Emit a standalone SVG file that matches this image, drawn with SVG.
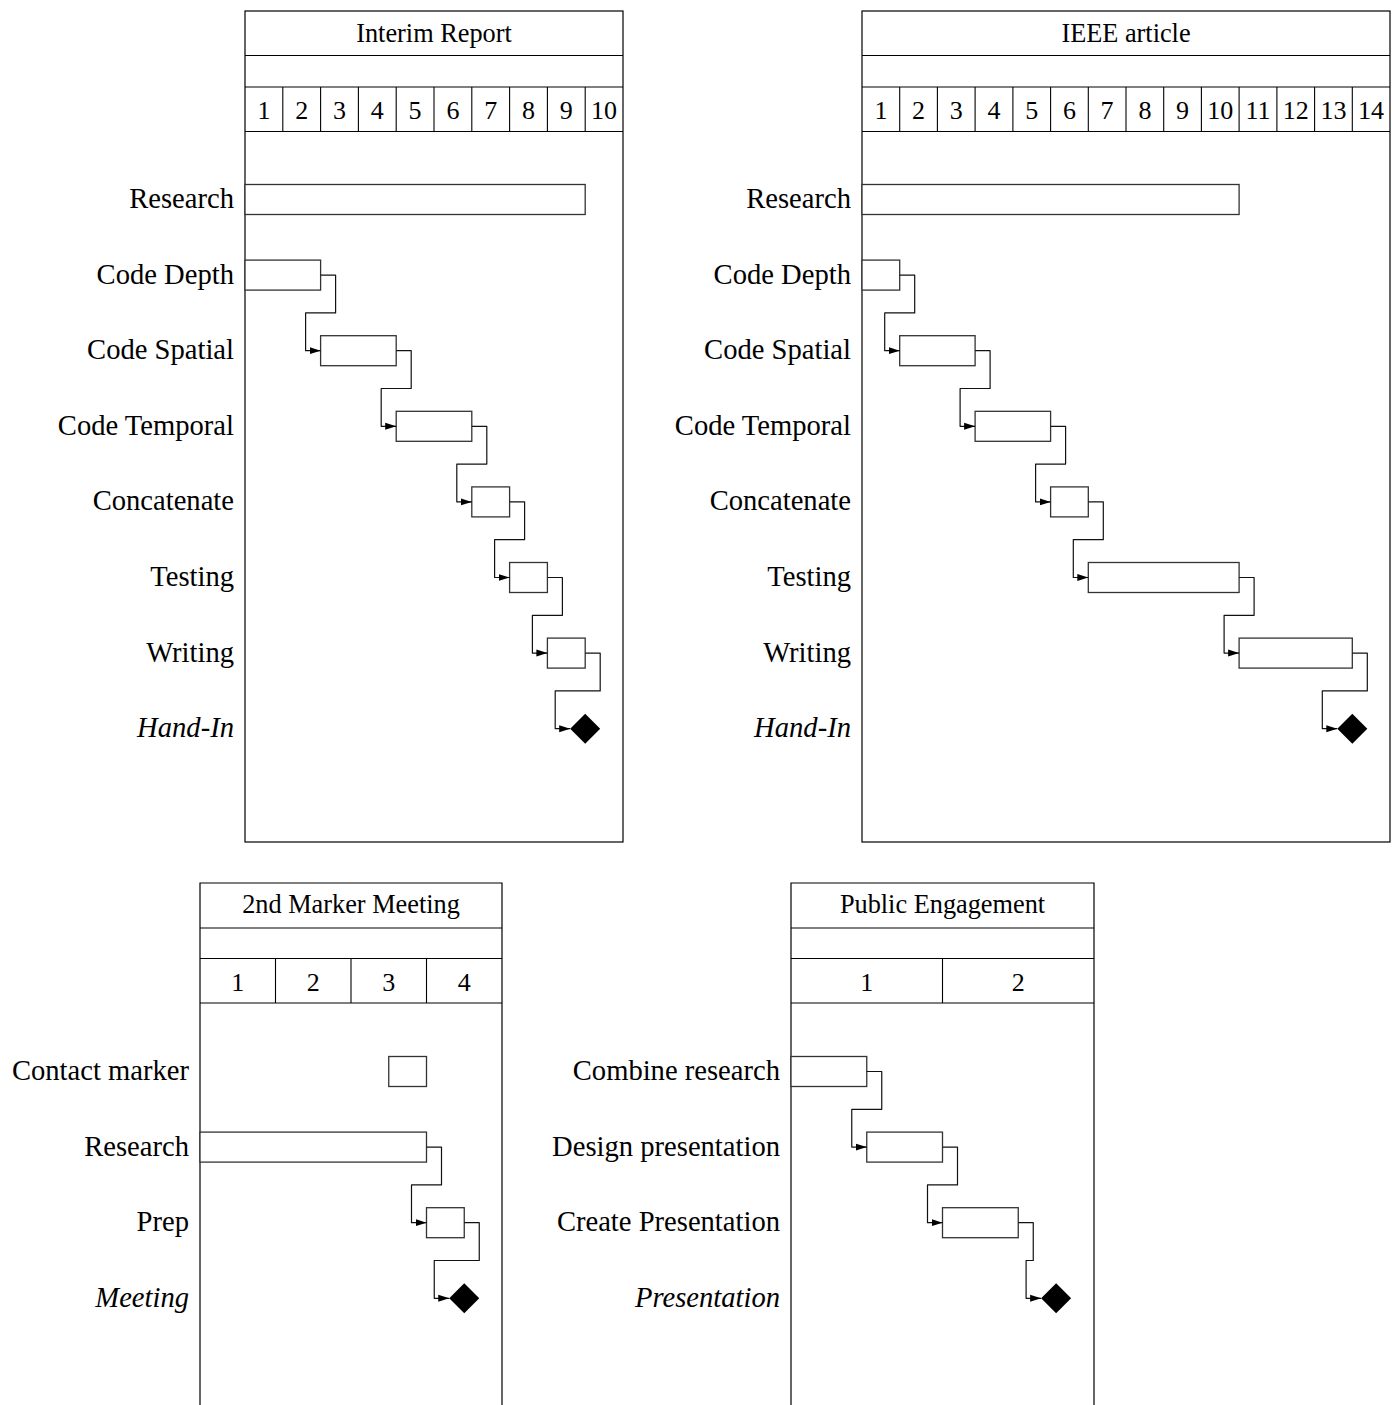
<svg xmlns="http://www.w3.org/2000/svg" width="1399" height="1405" viewBox="0 0 1399 1405">
<style>
.frame{fill:none;stroke:#000;stroke-width:1.2}
.grid{stroke:#000;stroke-width:1.1}
.bar{fill:#fff;stroke:#333;stroke-width:1.3}
.ms{fill:#000;stroke:none}
.conn{fill:none;stroke:#111;stroke-width:1.2;stroke-linejoin:round}
.title{font-family:"Liberation Serif","Times New Roman",serif;font-size:26.3px;text-anchor:middle;fill:#000}
.num{font-family:"Liberation Serif","Times New Roman",serif;font-size:26px;text-anchor:middle;fill:#000}
.lbl{font-family:"Liberation Serif","Times New Roman",serif;font-size:28.6px;text-anchor:end;fill:#000}
.it{font-style:italic}
</style>
<defs>
<marker id="arr" markerUnits="userSpaceOnUse" markerWidth="12" markerHeight="9" refX="11" refY="4.5" orient="auto">
<path d="M0,1 L11,4.5 L0,8 z" fill="#000"/>
</marker>
</defs>
<rect width="1399" height="1405" fill="#fff"/>

<!-- Chart 1: Interim Report -->
<g id="chart-interim">
<rect class="frame" x="245" y="11" width="378" height="831"/>
<line class="grid" x1="245" y1="55.5" x2="623" y2="55.5"/>
<line class="grid" x1="245" y1="87" x2="623" y2="87"/>
<line class="grid" x1="245" y1="131.5" x2="623" y2="131.5"/>
<g class="grid">
<line x1="282.8" y1="87" x2="282.8" y2="131.5"/><line x1="320.6" y1="87" x2="320.6" y2="131.5"/><line x1="358.4" y1="87" x2="358.4" y2="131.5"/><line x1="396.2" y1="87" x2="396.2" y2="131.5"/><line x1="434" y1="87" x2="434" y2="131.5"/><line x1="471.8" y1="87" x2="471.8" y2="131.5"/><line x1="509.6" y1="87" x2="509.6" y2="131.5"/><line x1="547.4" y1="87" x2="547.4" y2="131.5"/><line x1="585.2" y1="87" x2="585.2" y2="131.5"/>
</g>
<text class="title" x="434" y="41.5">Interim Report</text>
<text class="num" x="263.9" y="118.5">1</text><text class="num" x="301.7" y="118.5">2</text><text class="num" x="339.5" y="118.5">3</text><text class="num" x="377.3" y="118.5">4</text><text class="num" x="415.1" y="118.5">5</text><text class="num" x="452.9" y="118.5">6</text><text class="num" x="490.7" y="118.5">7</text><text class="num" x="528.5" y="118.5">8</text><text class="num" x="566.3" y="118.5">9</text><text class="num" x="604.1" y="118.5">10</text>
<g id="ir-research"><text class="lbl" x="234" y="208">Research</text><rect class="bar" x="245" y="184.5" width="340.2" height="30"/></g>
<g id="ir-codedepth"><text class="lbl" x="234" y="283.6">Code Depth</text><rect class="bar" x="245" y="260.1" width="75.6" height="30"/></g>
<g id="ir-codespatial"><text class="lbl" x="234" y="359.2">Code Spatial</text><rect class="bar" x="320.6" y="335.7" width="75.6" height="30"/></g>
<g id="ir-codetemporal"><text class="lbl" x="234" y="434.8">Code Temporal</text><rect class="bar" x="396.2" y="411.3" width="75.6" height="30"/></g>
<g id="ir-concatenate"><text class="lbl" x="234" y="510.4">Concatenate</text><rect class="bar" x="471.8" y="486.9" width="37.8" height="30"/></g>
<g id="ir-testing"><text class="lbl" x="234" y="586">Testing</text><rect class="bar" x="509.6" y="562.5" width="37.8" height="30"/></g>
<g id="ir-writing"><text class="lbl" x="234" y="661.6">Writing</text><rect class="bar" x="547.4" y="638.1" width="37.8" height="30"/></g>
<g id="ir-handin"><text class="lbl it" x="234" y="737.2">Hand-In</text><path class="ms" d="M585.2,713.7 L600.2,728.7 L585.2,743.7 L570.2,728.7 z"/></g>
</g>

<!-- Chart 2: IEEE article -->
<g id="chart-ieee">
<rect class="frame" x="862" y="11" width="528" height="831"/>
<line class="grid" x1="862" y1="55.5" x2="1390" y2="55.5"/>
<line class="grid" x1="862" y1="87" x2="1390" y2="87"/>
<line class="grid" x1="862" y1="131.5" x2="1390" y2="131.5"/>
<g class="grid">
<line x1="899.7" y1="87" x2="899.7" y2="131.5"/><line x1="937.4" y1="87" x2="937.4" y2="131.5"/><line x1="975.1" y1="87" x2="975.1" y2="131.5"/><line x1="1012.9" y1="87" x2="1012.9" y2="131.5"/><line x1="1050.6" y1="87" x2="1050.6" y2="131.5"/><line x1="1088.3" y1="87" x2="1088.3" y2="131.5"/><line x1="1126" y1="87" x2="1126" y2="131.5"/><line x1="1163.7" y1="87" x2="1163.7" y2="131.5"/><line x1="1201.4" y1="87" x2="1201.4" y2="131.5"/><line x1="1239.1" y1="87" x2="1239.1" y2="131.5"/><line x1="1276.9" y1="87" x2="1276.9" y2="131.5"/><line x1="1314.6" y1="87" x2="1314.6" y2="131.5"/><line x1="1352.3" y1="87" x2="1352.3" y2="131.5"/>
</g>
<text class="title" x="1126" y="41.5">IEEE article</text>
<text class="num" x="880.9" y="118.5">1</text><text class="num" x="918.6" y="118.5">2</text><text class="num" x="956.3" y="118.5">3</text><text class="num" x="994" y="118.5">4</text><text class="num" x="1031.7" y="118.5">5</text><text class="num" x="1069.4" y="118.5">6</text><text class="num" x="1107.1" y="118.5">7</text><text class="num" x="1144.9" y="118.5">8</text><text class="num" x="1182.6" y="118.5">9</text><text class="num" x="1220.3" y="118.5">10</text><text class="num" x="1258" y="118.5">11</text><text class="num" x="1295.7" y="118.5">12</text><text class="num" x="1333.4" y="118.5">13</text><text class="num" x="1371.1" y="118.5">14</text>
<g id="ie-research"><text class="lbl" x="851" y="208">Research</text><rect class="bar" x="862" y="184.5" width="377.1" height="30"/></g>
<g id="ie-codedepth"><text class="lbl" x="851" y="283.6">Code Depth</text><rect class="bar" x="862" y="260.1" width="37.7" height="30"/></g>
<g id="ie-codespatial"><text class="lbl" x="851" y="359.2">Code Spatial</text><rect class="bar" x="899.7" y="335.7" width="75.4" height="30"/></g>
<g id="ie-codetemporal"><text class="lbl" x="851" y="434.8">Code Temporal</text><rect class="bar" x="975.1" y="411.3" width="75.5" height="30"/></g>
<g id="ie-concatenate"><text class="lbl" x="851" y="510.4">Concatenate</text><rect class="bar" x="1050.6" y="486.9" width="37.7" height="30"/></g>
<g id="ie-testing"><text class="lbl" x="851" y="586">Testing</text><rect class="bar" x="1088.3" y="562.5" width="150.8" height="30"/></g>
<g id="ie-writing"><text class="lbl" x="851" y="661.6">Writing</text><rect class="bar" x="1239.1" y="638.1" width="113.2" height="30"/></g>
<g id="ie-handin"><text class="lbl it" x="851" y="737.2">Hand-In</text><path class="ms" d="M1352.3,713.7 L1367.3,728.7 L1352.3,743.7 L1337.3,728.7 z"/></g>
</g>

<!-- Chart 3: 2nd Marker Meeting -->
<g id="chart-marker">
<path class="frame" d="M200,1412 V883 H502 V1412"/>
<line class="grid" x1="200" y1="928" x2="502" y2="928"/>
<line class="grid" x1="200" y1="958.5" x2="502" y2="958.5"/>
<line class="grid" x1="200" y1="1003" x2="502" y2="1003"/>
<g class="grid">
<line x1="275.5" y1="958.5" x2="275.5" y2="1003"/><line x1="351" y1="958.5" x2="351" y2="1003"/><line x1="426.5" y1="958.5" x2="426.5" y2="1003"/>
</g>
<text class="title" x="351" y="912.5">2nd Marker Meeting</text>
<text class="num" x="237.75" y="990.5">1</text><text class="num" x="313.25" y="990.5">2</text><text class="num" x="388.75" y="990.5">3</text><text class="num" x="464.25" y="990.5">4</text>
<g id="mm-contact"><text class="lbl" x="189" y="1080">Contact marker</text><rect class="bar" x="388.75" y="1056.5" width="37.75" height="30"/></g>
<g id="mm-research"><text class="lbl" x="189" y="1155.6">Research</text><rect class="bar" x="200" y="1132.1" width="226.5" height="30"/></g>
<g id="mm-prep"><text class="lbl" x="189" y="1231.2">Prep</text><rect class="bar" x="426.5" y="1207.7" width="37.75" height="30"/></g>
<g id="mm-meeting"><text class="lbl it" x="189" y="1306.8">Meeting</text><path class="ms" d="M464.25,1283.3 L479.25,1298.3 L464.25,1313.3 L449.25,1298.3 z"/></g>
</g>

<!-- Chart 4: Public Engagement -->
<g id="chart-public">
<path class="frame" d="M791,1412 V883 H1094 V1412"/>
<line class="grid" x1="791" y1="928" x2="1094" y2="928"/>
<line class="grid" x1="791" y1="958.5" x2="1094" y2="958.5"/>
<line class="grid" x1="791" y1="1003" x2="1094" y2="1003"/>
<line class="grid" x1="942.5" y1="958.5" x2="942.5" y2="1003"/>
<text class="title" x="942.5" y="912.5">Public Engagement</text>
<text class="num" x="866.75" y="990.5">1</text><text class="num" x="1018.25" y="990.5">2</text>
<g id="pe-combine"><text class="lbl" x="780" y="1080">Combine research</text><rect class="bar" x="791" y="1056.5" width="75.75" height="30"/></g>
<g id="pe-design"><text class="lbl" x="780" y="1155.6">Design presentation</text><rect class="bar" x="866.75" y="1132.1" width="75.75" height="30"/></g>
<g id="pe-create"><text class="lbl" x="780" y="1231.2">Create Presentation</text><rect class="bar" x="942.5" y="1207.7" width="75.75" height="30"/></g>
<g id="pe-presentation"><text class="lbl it" x="780" y="1306.8">Presentation</text><path class="ms" d="M1056.1,1283.3 L1071.1,1298.3 L1056.1,1313.3 L1041.1,1298.3 z"/></g>
</g>

<!-- Connectors -->
<g id="connectors" class="conn" marker-end="url(#arr)">
<path d="M320.6,275.1 H335.6 V312.9 H305.6 V350.7 H320.6"/>
<path d="M396.2,350.7 H411.2 V388.5 H381.2 V426.3 H396.2"/>
<path d="M471.8,426.3 H486.8 V464.1 H456.8 V501.9 H471.8"/>
<path d="M509.6,501.9 H524.6 V539.7 H494.6 V577.5 H509.6"/>
<path d="M547.4,577.5 H562.4 V615.3 H532.4 V653.1 H547.4"/>
<path d="M585.2,653.1 H600.2 V690.9 H555.2 V728.7 H570.2"/>
<path d="M899.7,275.1 H914.7 V312.9 H884.7 V350.7 H899.7"/>
<path d="M975.1,350.7 H990.1 V388.5 H960.1 V426.3 H975.1"/>
<path d="M1050.6,426.3 H1065.6 V464.1 H1035.6 V501.9 H1050.6"/>
<path d="M1088.3,501.9 H1103.3 V539.7 H1073.3 V577.5 H1088.3"/>
<path d="M1239.1,577.5 H1254.1 V615.3 H1224.1 V653.1 H1239.1"/>
<path d="M1352.3,653.1 H1367.3 V690.9 H1322.3 V728.7 H1337.3"/>
<path d="M426.5,1147.1 H441.5 V1184.9 H411.5 V1222.7 H426.5"/>
<path d="M464.25,1222.7 H479.25 V1260.5 H434.25 V1298.3 H449.25"/>
<path d="M866.75,1071.5 H881.75 V1109.3 H851.75 V1147.1 H866.75"/>
<path d="M942.5,1147.1 H957.5 V1184.9 H927.5 V1222.7 H942.5"/>
<path d="M1018.25,1222.7 H1033.25 V1260.5 H1026.1 V1298.3 H1041.1"/>
</g>
</svg>
